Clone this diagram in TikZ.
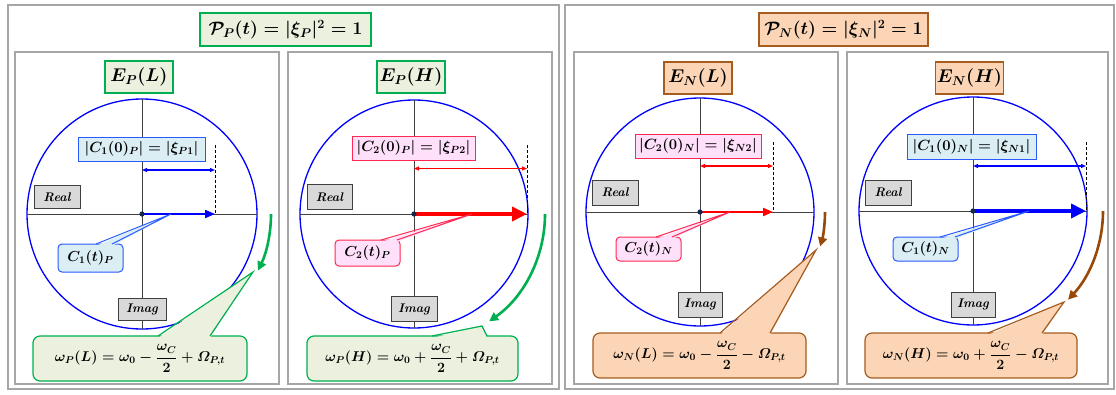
\RequirePackage{fix-cm}
\documentclass[tikz,border=0pt]{standalone}
\usepackage{amsmath}
\usetikzlibrary{arrows.meta,calc}
\definecolor{greenB}{RGB}{0,176,80}
\definecolor{greenF}{RGB}{235,241,222}
\definecolor{brownB}{RGB}{166,92,30}
\definecolor{brownA}{RGB}{152,72,7}
\definecolor{brownF}{RGB}{251,213,181}
\definecolor{lblueF}{RGB}{218,238,243}
\definecolor{lblueB}{RGB}{40,90,255}
\definecolor{pinkF}{RGB}{255,224,250}
\definecolor{pinkB}{RGB}{255,40,80}
\definecolor{greyF}{RGB}{217,217,217}
\definecolor{greyB}{RGB}{64,64,64}
\definecolor{panelG}{RGB}{166,166,166}
\definecolor{dotC}{RGB}{20,40,80}
\tikzset{
  panelbox/.style={draw=panelG, line width=1.3pt},
  basebox/.style={inner sep=0pt, outer sep=0pt, font=\boldmath},
  titlebox/.style={basebox, line width=1.2pt, font=\fontsize{18}{20}\selectfont\boldmath},
  ebox/.style={basebox, line width=1.2pt, minimum width=68pt, minimum height=32pt, font=\fontsize{18.5}{20}\selectfont\boldmath},
  gtitle/.style={draw=greenB, fill=greenF},
  btitle/.style={draw=brownB, fill=brownF},
  lbox/.style={basebox, line width=1pt, minimum height=24pt, font=\fontsize{14.8}{16}\selectfont\boldmath},
  bluelbl/.style={draw=lblueB, fill=lblueF},
  pinklbl/.style={draw=pinkB, fill=pinkF},
  axbox/.style={basebox, draw=greyB, fill=greyF, line width=1pt, minimum width=46pt, minimum height=23pt, font=\fontsize{12.5}{14}\selectfont\bfseries\itshape},
  smallcall/.style={basebox, line width=1pt, rounded corners=4pt, minimum width=65pt, minimum height=26pt, font=\fontsize{14.5}{16}\selectfont\boldmath},
  bigcall/.style={basebox, line width=1.2pt, rounded corners=7pt, minimum width=212pt, minimum height=45pt, font=\fontsize{14.2}{16}\selectfont\boldmath},
  unitcircle/.style={draw=blue, line width=1.3pt},
  axisline/.style={draw=greyB, line width=0.8pt},
  dashline/.style={draw=black, line width=0.9pt, dashed, dash pattern=on 3pt off 2pt},
  dimarrow/.style={line width=1.1pt, {Triangle[length=5pt,width=4pt]}-{Triangle[length=5pt,width=4pt]}},
  thinvec/.style={line width=2pt, -{Triangle[length=10pt,width=8pt]}},
  thickvec/.style={line width=4.5pt, -{Triangle[length=15pt,width=14pt]}},
  rotarrow/.style={line width=2.6pt, -{Triangle[length=9pt,width=9pt]}},
  dotmark/.style={fill=dotC},
}
\begin{document}
\begin{tikzpicture}[x=1pt,y=-1pt]
\useasboundingbox (0,0) rectangle (1116,394);
\fill[white] (0,0) rectangle (1116,394);

% ---------------- outer and inner panels
\draw[panelbox] (8,5) rectangle (559,389);
\draw[panelbox] (565,5) rectangle (1114,389);
\draw[panelbox] (15,52) rectangle (279,384);
\draw[panelbox] (288,52) rectangle (552,384);
\draw[panelbox] (574,52) rectangle (838,384);
\draw[panelbox] (847,52) rectangle (1108,384);

% ---------------- titles
\node[titlebox, gtitle, minimum width=171pt, minimum height=33pt] (tP) at (285.5,29.5) {$\mathcal{P}_P(t) = |\xi_P|^2 = 1$};
\node[titlebox, btitle, minimum width=169pt, minimum height=33pt] (tN) at (843.5,29.5) {$\mathcal{P}_N(t) = |\xi_N|^2 = 1$};

\node[ebox, gtitle] (e1) at (139,77) {$E_P(L)$};
\node[ebox, gtitle] (e2) at (411,77) {$E_P(H)$};
\node[ebox, btitle] (e3) at (698,78) {$E_N(L)$};
\node[ebox, btitle] (e4) at (969.5,78) {$E_N(H)$};

% ================= Panel 1 : E_P(L)
\coordinate (o1) at (142,214);
\draw[unitcircle] (o1) circle[radius=115];
\draw[axisline] (27,214) -- (257,214);
\draw[axisline] (142,99) -- (142,329);
\coordinate (d1t) at (215,145);
\coordinate (d1b) at (215,214);
\draw[dashline] (d1t) -- (d1b);
\coordinate (m1a) at (142,170);
\coordinate (m1b) at (215,170);
\draw[blue, dimarrow] (m1a) -- (m1b);
\draw[blue, thinvec] (o1) -- (d1b);
\fill[dotmark] (o1) circle[radius=2.6];
\node[lbox, bluelbl, minimum width=127pt] (l1) at (141.5,149) {$|C_1(0)_P| = |\xi_{P1}|$};
\node[axbox] (r1) at (57,197) {Real};
\node[axbox, minimum width=48pt, minimum height=22pt] (i1) at (142,309) {Imag};
% small callout
\node[smallcall, bluelbl, minimum height=28pt] (c1) at (90.5,258) {$C_1(t)_P$};
\coordinate (c1t) at (171,214);
\fill[lblueF] ($(96,0 |- c1.north)+(0,2)$) -- (c1t) -- ($(112,0 |- c1.north)+(0,2)$) -- cycle;
\draw[lblueB, line width=1pt] (96,0 |- c1.north) -- (c1t) -- (112,0 |- c1.north);
% rotation arrow
\coordinate (a1s) at (271,214);
\draw[greenB, rotarrow] (a1s) arc[start angle=0, end angle=26, radius=129] coordinate (a1e);
% big callout
\node[bigcall, gtitle, minimum width=214pt] (w1) at (140,358.5) {$\omega_P(L) = \omega_0 - \dfrac{\omega_C}{2} + \varOmega_{P,t}$};
\coordinate (w1t) at (253,272);
\fill[greenF] ($(158,0 |- w1.north)+(0,2)$) -- (w1t) -- ($(210,0 |- w1.north)+(0,2)$) -- cycle;
\draw[greenB, line width=1.2pt] (158,0 |- w1.north) -- (w1t) -- (210,0 |- w1.north);

% ================= Panel 2 : E_P(H)
\coordinate (o2) at (414,214);
\draw[unitcircle] (o2) circle[radius=114];
\draw[axisline] (300,214) -- (528,214);
\draw[axisline] (414,100) -- (414,328);
\coordinate (d2t) at (527,145);
\coordinate (d2b) at (527,214);
\draw[dashline] (d2t) -- (d2b);
\coordinate (m2a) at (414,168.5);
\coordinate (m2b) at (527,168.5);
\draw[red, dimarrow] (m2a) -- (m2b);
\draw[red, thickvec] (o2) -- (d2b);
\fill[dotmark] (o2) circle[radius=2.6];
\node[lbox, pinklbl, minimum width=123pt] (l2) at (413.5,148) {$|C_2(0)_P| = |\xi_{P2}|$};
\node[axbox, minimum height=25pt, minimum width=45pt] (r2) at (329.5,197) {Real};
\node[axbox, minimum height=25pt] (i2) at (414,309) {Imag};
\node[smallcall, pinklbl] (c2) at (367.5,253) {$C_2(t)_P$};
\coordinate (c2t) at (472,214);
\fill[pinkF] ($(381,0 |- c2.north)+(0,2)$) -- (c2t) -- ($(397,0 |- c2.north)+(0,2)$) -- cycle;
\draw[pinkB, line width=1pt] (381,0 |- c2.north) -- (c2t) -- (397,0 |- c2.north);
\coordinate (a2s) at (545,214);
\draw[greenB, rotarrow] (a2s) arc[start angle=0, end angle=55, radius=131] coordinate (a2e);
\node[bigcall, gtitle, minimum width=211pt] (w2) at (412.5,358.5) {$\omega_P(H) = \omega_0 + \dfrac{\omega_C}{2} + \varOmega_{P,t}$};
\coordinate (w2t) at (482,326);
\fill[greenF] ($(432,0 |- w2.north)+(0,2)$) -- (w2t) -- ($(487,0 |- w2.north)+(0,2)$) -- cycle;
\draw[greenB, line width=1.2pt] (432,0 |- w2.north) -- (w2t) -- (487,0 |- w2.north);

% ================= Panel 3 : E_N(L)
\coordinate (o3) at (700,212);
\draw[unitcircle] (o3) circle[radius=114];
\draw[axisline] (586,212) -- (814,212);
\draw[axisline] (700,98) -- (700,326);
\coordinate (d3t) at (773,142);
\coordinate (d3b) at (773,212);
\draw[dashline] (d3t) -- (d3b);
\coordinate (m3a) at (700,166);
\coordinate (m3b) at (773,166);
\draw[red, dimarrow] (m3a) -- (m3b);
\draw[red, thinvec] (o3) -- (d3b);
\fill[dotmark] (o3) circle[radius=2.6];
\node[lbox, pinklbl, minimum width=126pt] (l3) at (698,146) {$|C_2(0)_N| = |\xi_{N2}|$};
\node[axbox, minimum height=25pt] (r3) at (615,192.5) {Real};
\node[axbox, minimum width=44pt, minimum height=25pt] (i3) at (700,304.5) {Imag};
\node[smallcall, pinklbl, minimum height=24pt] (c3) at (648.5,249) {$C_2(t)_N$};
\coordinate (c3t) at (730,212);
\fill[pinkF] ($(656,0 |- c3.north)+(0,2)$) -- (c3t) -- ($(672,0 |- c3.north)+(0,2)$) -- cycle;
\draw[pinkB, line width=1pt] (656,0 |- c3.north) -- (c3t) -- (672,0 |- c3.north);
\coordinate (a3s) at (825,212);
\draw[brownA, rotarrow] (a3s) arc[start angle=0, end angle=16, radius=125] coordinate (a3e);
\node[bigcall, btitle, minimum width=213pt] (w3) at (699.5,355.5) {$\omega_N(L) = \omega_0 - \dfrac{\omega_C}{2} - \varOmega_{P,t}$};
\coordinate (w3t) at (816,250);
\fill[brownF] ($(720,0 |- w3.north)+(0,2)$) -- (w3t) -- ($(770,0 |- w3.north)+(0,2)$) -- cycle;
\draw[brownB, line width=1.2pt] (720,0 |- w3.north) -- (w3t) -- (770,0 |- w3.north);

% ================= Panel 4 : E_N(H)
\coordinate (o4) at (973,211);
\draw[unitcircle] (o4) circle[radius=114];
\draw[axisline] (859,211) -- (1087,211);
\draw[axisline] (973,97) -- (973,325);
\coordinate (d4t) at (1086,142);
\coordinate (d4b) at (1086,211);
\draw[dashline] (d4t) -- (d4b);
\coordinate (m4a) at (973,166);
\coordinate (m4b) at (1086,166);
\draw[blue, dimarrow] (m4a) -- (m4b);
\draw[blue, thickvec] (o4) -- (d4b);
\fill[dotmark] (o4) circle[radius=2.6];
\node[lbox, bluelbl, minimum width=129pt, minimum height=25pt] (l4) at (971.5,147) {$|C_1(0)_N| = |\xi_{N1}|$};
\node[axbox, minimum height=25pt] (r4) at (888,192.5) {Real};
\node[axbox, minimum width=44pt, minimum height=25pt] (i4) at (973,304.5) {Imag};
\node[smallcall, bluelbl, minimum height=24pt] (c4) at (925.5,249) {$C_1(t)_N$};
\coordinate (c4t) at (1029,211);
\fill[lblueF] ($(940,0 |- c4.north)+(0,2)$) -- (c4t) -- ($(955,0 |- c4.north)+(0,2)$) -- cycle;
\draw[lblueB, line width=1pt] (940,0 |- c4.north) -- (c4t) -- (955,0 |- c4.north);
\coordinate (a4s) at (1103,211);
\draw[brownA, rotarrow] (a4s) arc[start angle=0, end angle=43, radius=130] coordinate (a4e);
\node[bigcall, btitle, minimum width=212pt] (w4) at (971,355.5) {$\omega_N(H) = \omega_0 + \dfrac{\omega_C}{2} - \varOmega_{P,t}$};
\coordinate (w4t) at (1064,302);
\fill[brownF] ($(988,0 |- w4.north)+(0,2)$) -- (w4t) -- ($(1042,0 |- w4.north)+(0,2)$) -- cycle;
\draw[brownB, line width=1.2pt] (988,0 |- w4.north) -- (w4t) -- (1042,0 |- w4.north);
\end{tikzpicture}
\end{document}
